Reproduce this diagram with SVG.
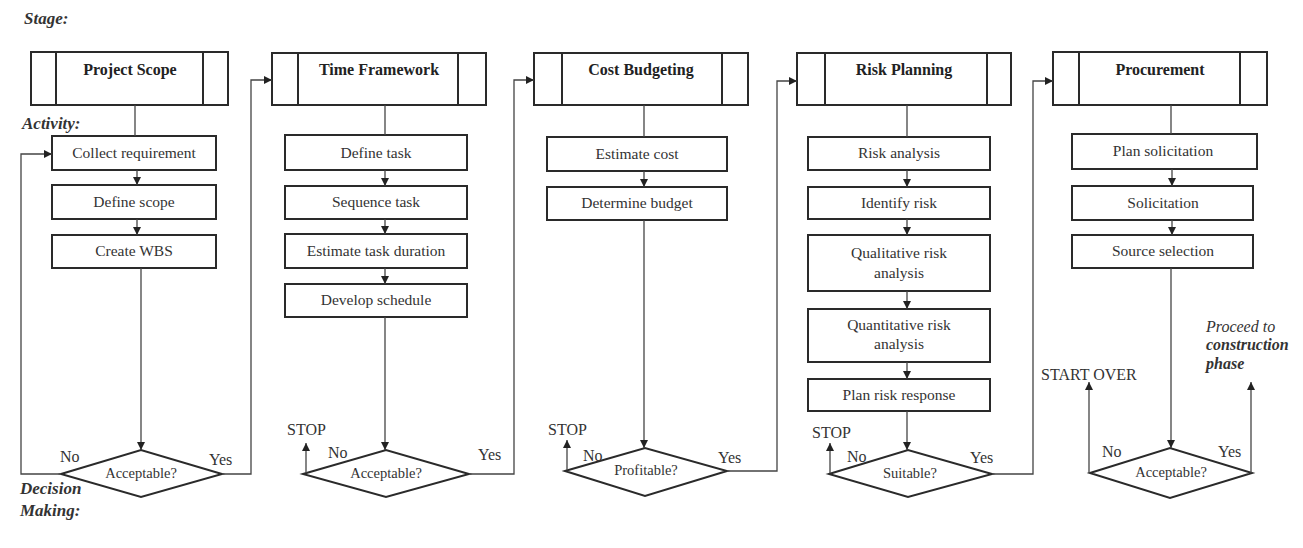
<svg xmlns="http://www.w3.org/2000/svg" width="1303" height="548" viewBox="0 0 1303 548">
<style>
.bg{fill:#ffffff}
.box{fill:#ffffff;stroke:#2a2a2a;stroke-width:2}
.in{stroke:#2a2a2a;stroke-width:2}
.ln{fill:none;stroke:#444;stroke-width:1.3}
.t{font-family:"Liberation Serif","Times New Roman",serif;font-size:15.5px;fill:#333;text-anchor:middle}
.h{font-family:"Liberation Serif","Times New Roman",serif;font-size:16px;font-weight:bold;fill:#222;text-anchor:middle}
.d{font-family:"Liberation Serif","Times New Roman",serif;font-size:14.5px;fill:#333;text-anchor:middle}
.l{font-family:"Liberation Serif","Times New Roman",serif;font-size:16px;fill:#333}
.s{font-family:"Liberation Serif","Times New Roman",serif;font-size:17px;font-weight:bold;font-style:italic;fill:#333}
.p{font-family:"Liberation Serif","Times New Roman",serif;font-size:16px;font-style:italic;fill:#333}
.pb{font-family:"Liberation Serif","Times New Roman",serif;font-size:16px;font-style:italic;font-weight:bold;fill:#333}
</style>
<defs>
<marker id="ah" viewBox="0 0 8 8" refX="8" refY="4" markerWidth="8" markerHeight="8" markerUnits="userSpaceOnUse" orient="auto">
<path d="M0,0 L8,4 L0,8 z" fill="#222"/>
</marker>
</defs>
<rect class="bg" x="0" y="0" width="1303" height="548"/>

<g id="labels">
<text class="s" x="24" y="24">Stage:</text>
<text class="s" x="22" y="129">Activity:</text>
<text class="s" x="20" y="494">Decision</text>
<text class="s" x="20" y="516">Making:</text>
</g>

<g id="stage-project-scope">
<rect class="box" x="31" y="52" width="197" height="53"/>
<line class="in" x1="56" y1="52" x2="56" y2="105"/><line class="in" x1="203" y1="52" x2="203" y2="105"/>
<text class="h" x="130" y="75">Project Scope</text>
</g>
<g id="stage-time-framework">
<rect class="box" x="272" y="53" width="214" height="52"/>
<line class="in" x1="298" y1="53" x2="298" y2="105"/><line class="in" x1="458" y1="53" x2="458" y2="105"/>
<text class="h" x="379" y="75">Time Framework</text>
</g>
<g id="stage-cost-budgeting">
<rect class="box" x="534" y="53" width="214" height="52"/>
<line class="in" x1="562" y1="53" x2="562" y2="105"/><line class="in" x1="722" y1="53" x2="722" y2="105"/>
<text class="h" x="641" y="75">Cost Budgeting</text>
</g>
<g id="stage-risk-planning">
<rect class="box" x="797" y="53" width="214" height="52"/>
<line class="in" x1="825" y1="53" x2="825" y2="105"/><line class="in" x1="987" y1="53" x2="987" y2="105"/>
<text class="h" x="904" y="75">Risk Planning</text>
</g>
<g id="stage-procurement">
<rect class="box" x="1053" y="52" width="214" height="53"/>
<line class="in" x1="1079" y1="52" x2="1079" y2="105"/><line class="in" x1="1240" y1="52" x2="1240" y2="105"/>
<text class="h" x="1160" y="75">Procurement</text>
</g>

<g id="a-collect"><rect class="box" x="52" y="136" width="164" height="34"/><text class="t" x="134" y="158">Collect requirement</text></g>
<g id="a-define-scope"><rect class="box" x="52" y="185" width="164" height="34"/><text class="t" x="134" y="207">Define scope</text></g>
<g id="a-wbs"><rect class="box" x="52" y="235" width="164" height="33"/><text class="t" x="134" y="256">Create WBS</text></g>

<g id="a-define-task"><rect class="box" x="285" y="135" width="182" height="35"/><text class="t" x="376" y="158">Define task</text></g>
<g id="a-sequence"><rect class="box" x="285" y="186" width="182" height="33"/><text class="t" x="376" y="207">Sequence task</text></g>
<g id="a-duration"><rect class="box" x="285" y="234" width="182" height="34"/><text class="t" x="376" y="256">Estimate task duration</text></g>
<g id="a-schedule"><rect class="box" x="285" y="284" width="182" height="33"/><text class="t" x="376" y="305">Develop schedule</text></g>

<g id="a-est-cost"><rect class="box" x="547" y="137" width="180" height="34"/><text class="t" x="637" y="159">Estimate cost</text></g>
<g id="a-budget"><rect class="box" x="547" y="187" width="180" height="33"/><text class="t" x="637" y="208">Determine budget</text></g>

<g id="a-risk-analysis"><rect class="box" x="808" y="137" width="182" height="33"/><text class="t" x="899" y="158">Risk analysis</text></g>
<g id="a-identify"><rect class="box" x="808" y="187" width="182" height="32"/><text class="t" x="899" y="208">Identify risk</text></g>
<g id="a-qualitative"><rect class="box" x="808" y="235" width="182" height="56"/><text class="t" x="899" y="258">Qualitative risk</text><text class="t" x="899" y="278">analysis</text></g>
<g id="a-quantitative"><rect class="box" x="808" y="309" width="182" height="53"/><text class="t" x="899" y="330">Quantitative risk</text><text class="t" x="899" y="349">analysis</text></g>
<g id="a-response"><rect class="box" x="808" y="379" width="182" height="32"/><text class="t" x="899" y="400">Plan risk response</text></g>

<g id="a-plan-sol"><rect class="box" x="1072" y="134" width="185" height="35"/><text class="t" x="1163" y="156">Plan solicitation</text></g>
<g id="a-sol"><rect class="box" x="1072" y="186" width="181" height="34"/><text class="t" x="1163" y="208">Solicitation</text></g>
<g id="a-source"><rect class="box" x="1072" y="235" width="181" height="33"/><text class="t" x="1163" y="256">Source selection</text></g>

<g id="d1"><polygon class="box" points="61,474 141,450 222,474 141,497"/><text class="d" x="141" y="478">Acceptable?</text></g>
<g id="d2"><polygon class="box" points="303,474 386,450 469,474 386,497"/><text class="d" x="386" y="478">Acceptable?</text></g>
<g id="d3"><polygon class="box" points="565,471 645,448 727,471 645,496"/><text class="d" x="646" y="475">Profitable?</text></g>
<g id="d4"><polygon class="box" points="829,474 908,450 992,474 908,497"/><text class="d" x="910" y="478">Suitable?</text></g>
<g id="d5"><polygon class="box" points="1090,473 1170,448 1252,473 1170,498"/><text class="d" x="1171" y="477">Acceptable?</text></g>

<g id="connectors">
<line class="ln" x1="135" y1="105" x2="135" y2="136"/>
<line class="ln" x1="137" y1="170" x2="137" y2="185" marker-end="url(#ah)"/>
<line class="ln" x1="137" y1="219" x2="137" y2="235" marker-end="url(#ah)"/>
<line class="ln" x1="141" y1="268" x2="141" y2="450" marker-end="url(#ah)"/>
<polyline class="ln" points="61,474 21,474 21,154 52,154" marker-end="url(#ah)"/>
<polyline class="ln" points="222,474 251,474 251,80 272,80" marker-end="url(#ah)"/>

<line class="ln" x1="385" y1="105" x2="385" y2="135"/>
<line class="ln" x1="385" y1="170" x2="385" y2="186" marker-end="url(#ah)"/>
<line class="ln" x1="385" y1="219" x2="385" y2="234" marker-end="url(#ah)"/>
<line class="ln" x1="385" y1="268" x2="385" y2="284" marker-end="url(#ah)"/>
<line class="ln" x1="385" y1="317" x2="385" y2="450" marker-end="url(#ah)"/>
<line class="ln" x1="306" y1="473" x2="306" y2="443" marker-end="url(#ah)"/>
<polyline class="ln" points="469,474 514,474 514,80 534,80" marker-end="url(#ah)"/>

<line class="ln" x1="644" y1="105" x2="644" y2="137"/>
<line class="ln" x1="644" y1="171" x2="644" y2="187" marker-end="url(#ah)"/>
<line class="ln" x1="644" y1="220" x2="644" y2="448" marker-end="url(#ah)"/>
<line class="ln" x1="567" y1="470" x2="567" y2="440" marker-end="url(#ah)"/>
<polyline class="ln" points="727,471 777,471 777,81 797,81" marker-end="url(#ah)"/>

<line class="ln" x1="907" y1="105" x2="907" y2="137"/>
<line class="ln" x1="907" y1="170" x2="907" y2="187" marker-end="url(#ah)"/>
<line class="ln" x1="907" y1="219" x2="907" y2="235" marker-end="url(#ah)"/>
<line class="ln" x1="907" y1="291" x2="907" y2="309" marker-end="url(#ah)"/>
<line class="ln" x1="907" y1="362" x2="907" y2="379" marker-end="url(#ah)"/>
<line class="ln" x1="907" y1="411" x2="907" y2="450" marker-end="url(#ah)"/>
<line class="ln" x1="830" y1="473" x2="830" y2="443" marker-end="url(#ah)"/>
<polyline class="ln" points="992,474 1033,474 1033,81 1053,81" marker-end="url(#ah)"/>

<line class="ln" x1="1171" y1="105" x2="1171" y2="134"/>
<line class="ln" x1="1172" y1="169" x2="1172" y2="186" marker-end="url(#ah)"/>
<line class="ln" x1="1172" y1="220" x2="1172" y2="235" marker-end="url(#ah)"/>
<line class="ln" x1="1171" y1="268" x2="1171" y2="448" marker-end="url(#ah)"/>
<line class="ln" x1="1089" y1="473" x2="1089" y2="382" marker-end="url(#ah)"/>
<line class="ln" x1="1251" y1="473" x2="1251" y2="382" marker-end="url(#ah)"/>
</g>

<g id="edge-labels">
<text class="l" x="60" y="462">No</text>
<text class="l" x="209" y="465">Yes</text>
<text class="l" x="287" y="435">STOP</text>
<text class="l" x="328" y="458">No</text>
<text class="l" x="478" y="460">Yes</text>
<text class="l" x="548" y="435">STOP</text>
<text class="l" x="583" y="461">No</text>
<text class="l" x="718" y="463">Yes</text>
<text class="l" x="812" y="438">STOP</text>
<text class="l" x="847" y="462">No</text>
<text class="l" x="970" y="463">Yes</text>
<text class="l" x="1041" y="380">START OVER</text>
<text class="l" x="1102" y="457">No</text>
<text class="l" x="1218" y="457">Yes</text>
<text class="p" x="1206" y="332">Proceed to</text>
<text class="pb" x="1206" y="350">construction</text>
<text class="pb" x="1206" y="369">phase</text>
</g>
</svg>
